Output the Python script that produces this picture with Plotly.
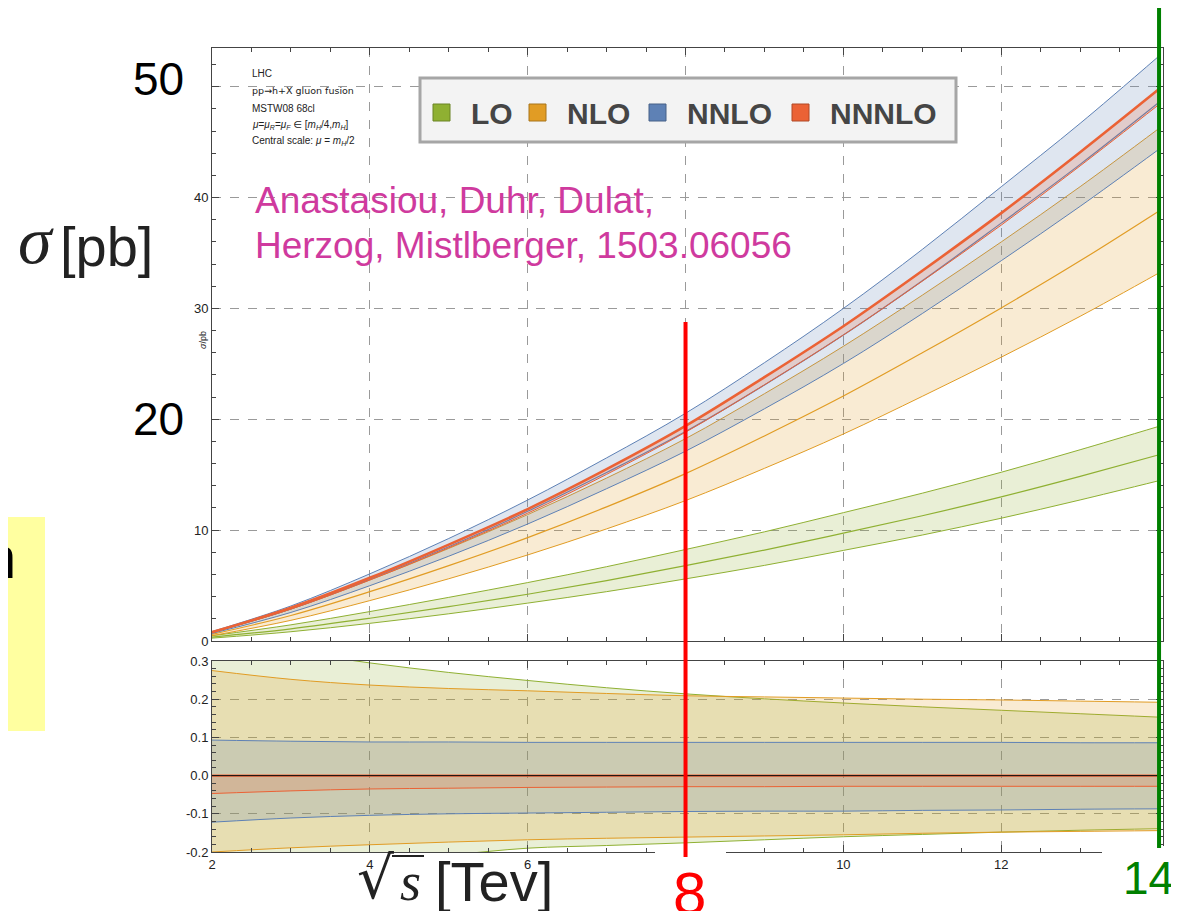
import plotly.graph_objects as go

# ---------------- data ----------------
sqrt_s = [2, 3, 4, 5, 6, 7, 8, 9, 10, 11, 12, 13, 14]

lo_central    = [0.35, 1.1, 2.05, 3.1, 4.22, 5.45, 6.8, 8.2, 9.73, 11.3, 13.0, 14.85, 16.8]
nlo_central   = [0.6, 2.3, 4.45, 6.8, 9.33, 12.1, 15.1, 18.5, 22.1, 26.0, 30.05, 34.3, 38.8]
nnlo_central  = [0.78, 2.9, 5.57, 8.5, 11.7, 15.2, 18.9, 23.1, 27.6, 32.5, 37.7, 43.0, 48.6]
nnnlo_central = [0.8, 3.0, 5.7, 8.7, 11.9, 15.5, 19.4, 23.8, 28.4, 33.4, 38.6, 44.1, 49.8]

# relative scale uncertainty (lower panel)
lo_up    = [0.36, 0.325, 0.295, 0.27, 0.249, 0.23, 0.214, 0.201, 0.19, 0.18, 0.171, 0.162, 0.153]
lo_dn    = [-0.26, -0.24, -0.223, -0.208, -0.19, -0.183, -0.176, -0.168, -0.16, -0.154, -0.148, -0.143, -0.139]
nlo_up   = [0.275, 0.252, 0.237, 0.228, 0.222, 0.215, 0.209, 0.206, 0.203, 0.200, 0.198, 0.195, 0.192]
nlo_dn   = [-0.200, -0.189, -0.181, -0.174, -0.168, -0.164, -0.161, -0.158, -0.155, -0.151, -0.148, -0.146, -0.144]
nnlo_up  = [0.093, 0.090, 0.088, 0.088, 0.087, 0.087, 0.087, 0.087, 0.087, 0.087, 0.087, 0.086, 0.086]
nnlo_dn  = [-0.122, -0.111, -0.104, -0.100, -0.098, -0.096, -0.094, -0.093, -0.093, -0.091, -0.090, -0.088, -0.087]
nnnlo_up = [0.0, 0.0, 0.0, 0.0, 0.0, 0.0, 0.0, 0.0, 0.0, 0.0, 0.0, 0.0, 0.0]
nnnlo_dn = [-0.047, -0.040, -0.035, -0.033, -0.031, -0.030, -0.029, -0.029, -0.028, -0.028, -0.028, -0.028, -0.028]

orders = ["LO", "NLO", "NNLO", "NNNLO"]
main_y_ticks = [0, 10, 20, 30, 40, 50]
main_y_labels = ["0", "10", "", "30", "40", ""]
ratio_y_ticks = [-0.2, -0.1, 0.0, 0.1, 0.2, 0.3]
ratio_y_labels = ["-0.2", "-0.1", "0.0", "0.1", "0.2", "0.3"]
x_ticks = [2, 4, 6, 8, 10, 12, 14]
x_labels = ["2", "4", "6", "", "10", "12", ""]

# ---------------- styling ----------------
colors = {"LO": (143, 176, 50), "NLO": (225, 156, 36), "NNLO": (94, 129, 181), "NNNLO": (235, 98, 53)}
OFF = 8                      # page body margin
W, H = 1179 - OFF, 911 - OFF
L, R, T, B = 212 - OFF, 16, 48 - OFF, 59
PW, PH = W - L - R, H - T - B


def px(x):
    return (x - OFF - L) / PW


def py(y):
    return (H - B - (y - OFF)) / PH


def rgb(c, a=None):
    return f"rgba({c[0]},{c[1]},{c[2]},{a})" if a is not None else f"rgb({c[0]},{c[1]},{c[2]})"


series = {
    "LO": (lo_central, lo_up, lo_dn),
    "NLO": (nlo_central, nlo_up, nlo_dn),
    "NNLO": (nnlo_central, nnlo_up, nnlo_dn),
    "NNNLO": (nnnlo_central, nnnlo_up, nnnlo_dn),
}

fig = go.Figure()

for name in orders:
    c = colors[name]
    cen, up, dn = series[name]
    lower = [v * (1 + d) for v, d in zip(cen, dn)]
    upper = [v * (1 + u) for v, u in zip(cen, up)]
    lw_c = 2.6 if name == "NNNLO" else 1.2
    common = dict(mode="lines", line_shape="spline", showlegend=False, hoverinfo="skip")
    fig.add_trace(go.Scatter(x=sqrt_s, y=lower, line=dict(color=rgb(c), width=1), xaxis="x", yaxis="y", **common))
    fig.add_trace(go.Scatter(x=sqrt_s, y=upper, line=dict(color=rgb(c), width=1), fill="tonexty",
                             fillcolor=rgb(c, 0.2), xaxis="x", yaxis="y", **common))
    fig.add_trace(go.Scatter(x=sqrt_s, y=cen, line=dict(color=rgb(c), width=lw_c), xaxis="x", yaxis="y", **common))

for name in orders:
    c = colors[name]
    cen, up, dn = series[name]
    zero = [v / v - 1 for v in cen]
    common = dict(mode="lines", line_shape="spline", showlegend=False, hoverinfo="skip")
    fig.add_trace(go.Scatter(x=sqrt_s, y=dn, line=dict(color=rgb(c), width=1), xaxis="x2", yaxis="y2", **common))
    fig.add_trace(go.Scatter(x=sqrt_s, y=up, line=dict(color=rgb(c), width=1), fill="tonexty",
                             fillcolor=rgb(c, 0.2), xaxis="x2", yaxis="y2", **common))
    if name == "NNNLO":
        fig.add_trace(go.Scatter(x=sqrt_s, y=zero, line=dict(color=rgb(c), width=2.2), xaxis="x2", yaxis="y2", **common))

tickfont = dict(family="Liberation Sans, Arial", size=13, color="#222222")
axcommon = dict(showline=True, linecolor="#444444", linewidth=1, mirror="ticks", ticks="inside",
                tickcolor="#444444", ticklen=7, showgrid=True, gridcolor="#9a9a9a", griddash="dash",
                gridwidth=1, zeroline=False, tickfont=tickfont)

fig.update_layout(
    width=W, height=H,
    margin=dict(l=L, r=R, t=T, b=B),
    paper_bgcolor="white", plot_bgcolor="white",
    showlegend=False,
    xaxis=dict(domain=[0, 1], anchor="y", range=[2, 14.05], tickvals=x_ticks, showticklabels=False,
               minor=dict(dtick=0.5, ticks="inside", ticklen=4, tickcolor="#444444", showgrid=False), **axcommon),
    yaxis=dict(domain=[py(641), 1], anchor="x", range=[0, 53.5], tickvals=main_y_ticks, ticktext=main_y_labels,
               minor=dict(dtick=2, ticks="inside", ticklen=4, tickcolor="#444444", showgrid=False), **axcommon),
    xaxis2=dict(domain=[0, 1], anchor="y2", matches="x", range=[2, 14.05], tickvals=x_ticks, ticktext=x_labels,
                minor=dict(dtick=0.5, ticks="inside", ticklen=4, tickcolor="#444444", showgrid=False), **axcommon),
    yaxis2=dict(domain=[0, py(661)], anchor="x2", range=[-0.2, 0.3], tickvals=ratio_y_ticks, ticktext=ratio_y_labels,
                minor=dict(dtick=0.02, ticks="inside", ticklen=4, tickcolor="#444444", showgrid=False), **axcommon),
)

shapes = []
shapes.append(dict(type="rect", xref="paper", yref="paper", x0=px(0), x1=px(45), y0=py(731), y1=py(517),
                   fillcolor="#ffffa0", line=dict(width=0), layer="above"))
shapes.append(dict(type="rect", xref="paper", yref="paper", x0=px(655), x1=px(726), y0=py(870), y1=py(846),
                   fillcolor="white", line=dict(width=0), layer="above"))
shapes.append(dict(type="rect", xref="paper", yref="paper", x0=px(1102), x1=px(1185), y0=py(870), y1=py(846),
                   fillcolor="white", line=dict(width=0), layer="above"))
shapes.append(dict(type="line", xref="x2", yref="y2", x0=2, x1=14.05, y0=0, y1=0,
                   line=dict(color="#111111", width=1), layer="above"))
shapes.append(dict(type="rect", xref="paper", yref="paper", x0=px(420), x1=px(956), y0=py(142), y1=py(78),
                   fillcolor="#f3f3f3", line=dict(color="#a6a6a6", width=3), layer="above"))
sq_left = {"LO": 433, "NLO": 529, "NNLO": 649, "NNNLO": 792}
for name in orders:
    c = colors[name]
    dark = tuple(int(v * 0.75) for v in c)
    shapes.append(dict(type="rect", xref="paper", yref="paper", x0=px(sq_left[name]), x1=px(sq_left[name] + 17),
                       y0=py(121), y1=py(104), fillcolor=rgb(c), line=dict(color=rgb(dark), width=1), layer="above"))
shapes.append(dict(type="line", xref="x", yref="paper", x0=8, x1=8, y0=py(857), y1=py(322),
                   line=dict(color="#ff0000", width=4), layer="above"))
shapes.append(dict(type="line", xref="x", yref="paper", x0=14, x1=14, y0=py(848), y1=py(5),
                   line=dict(color="#008000", width=4), layer="above"))
shapes.append(dict(type="line", xref="paper", yref="paper", x0=px(392), x1=px(424), y0=py(856), y1=py(856),
                   line=dict(color="#222222", width=2), layer="above"))
fig.update_layout(shapes=shapes)

ann = []


def text(x, y, t, size, color="black", family="Liberation Sans, Arial", xanchor="center", yanchor="middle",
         angle=0):
    ann.append(dict(xref="paper", yref="paper", x=px(x), y=py(y), text=t, showarrow=False,
                    xanchor=xanchor, yanchor=yanchor, textangle=angle,
                    font=dict(size=size, color=color, family=family)))


leg_text_left = {"LO": 469, "NLO": 565, "NNLO": 685, "NNNLO": 828}
for name in orders:
    text(leg_text_left[name], 113, f"<b>{name}</b>", 30, color="#454545", xanchor="left")

small_lines = [
    (73, "LHC", "Liberation Sans, Arial"),
    (90, "pp→h+X gluon fusion", "DejaVu Sans"),
    (108, "MSTW08 68cl", "Liberation Sans, Arial"),
    (125, "<i>μ</i>=<i>μ</i><sub><i>R</i></sub>=<i>μ</i><sub><i>F</i></sub> ∈ [<i>m</i><sub><i>H</i></sub>/4,<i>m</i><sub><i>H</i></sub>]", "Liberation Sans, DejaVu Sans"),
    (141, "Central scale: <i>μ</i> = <i>m</i><sub><i>H</i></sub>/2", "Liberation Sans, Arial"),
]
for yy, t, fam in small_lines:
    text(250, yy, t, 9.5 if fam == "DejaVu Sans" else 10, color="#222222", family=fam, xanchor="left")

text(203, 340, "<i>σ</i>/pb", 9, color="#222222", angle=-90)

text(253, 200, "Anastasiou, Duhr, Dulat,", 37, color="#cf3a9e", xanchor="left")
text(253, 245, "Herzog, Mistlberger, 1503.06056", 37, color="#cf3a9e", xanchor="left")

text(158, 79, "50", 46)
text(158, 419, "20", 46)
text(36, 240, "<i>σ</i>", 68, color="#222222", family="Liberation Serif, Times New Roman")
text(106, 246, "[pb]", 56, color="#222222")
text(375, 878, "√", 58, color="#222222", family="DejaVu Sans")
text(410, 882, "<i>s</i>", 54, color="#222222", family="Liberation Serif, Times New Roman")
text(494, 881, "[Tev]", 56, color="#222222")
text(689, 893, "8", 60, color="#ff0000")
text(1148, 878, "14", 46, color="#008000")
text(18, 557, "n", 60, xanchor="right")

fig.update_layout(annotations=ann)
fig.write_html("out.html")
